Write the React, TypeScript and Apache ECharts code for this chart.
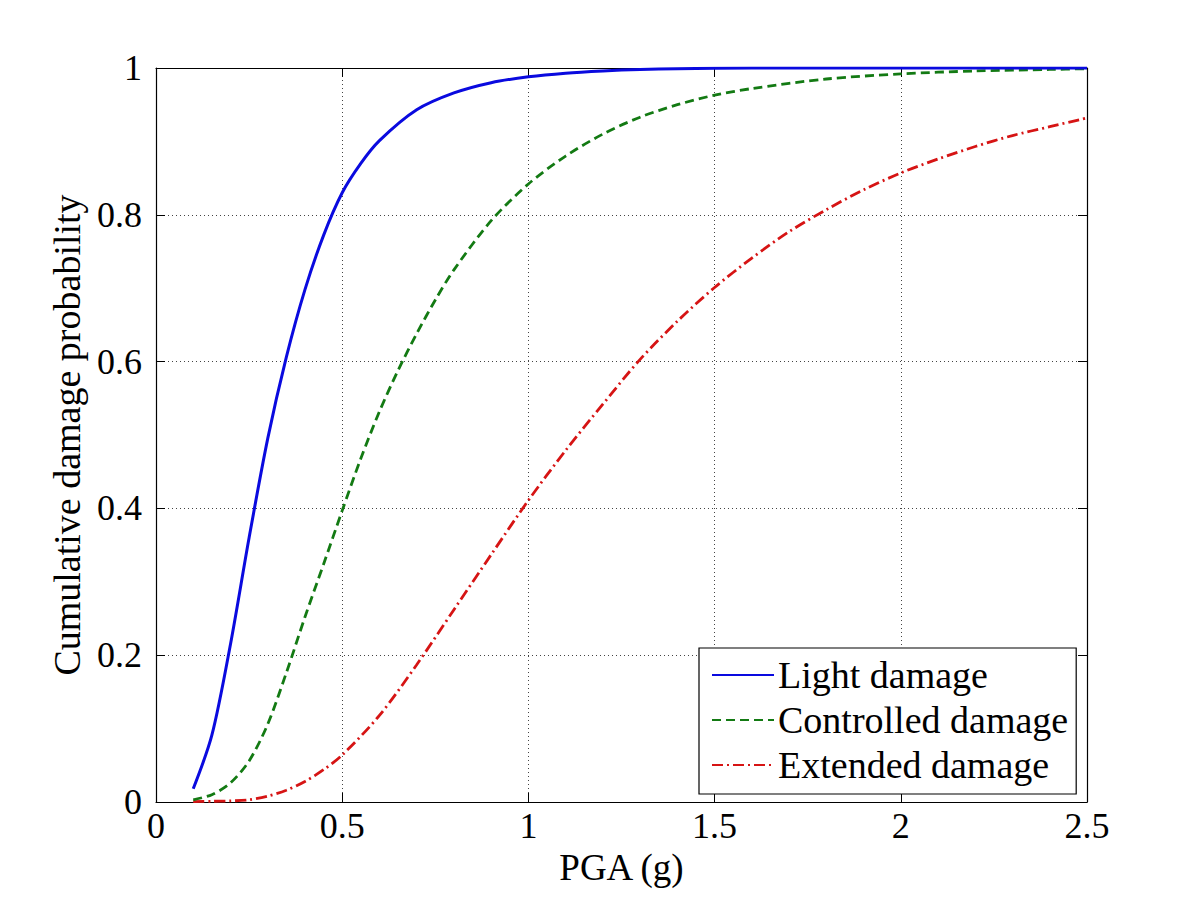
import React, { useEffect, useRef } from "react";
import * as echarts from "echarts";

const pgaLight = [0.1, 0.15, 0.2, 0.25, 0.3, 0.35, 0.4, 0.45, 0.5, 0.55, 0.6, 0.7, 0.8, 0.9, 1.0, 1.1, 1.2, 1.3, 1.4, 1.6, 1.8, 2.0, 2.2, 2.5];
const lightDamage = [0.018, 0.091, 0.215, 0.36, 0.495, 0.606, 0.698, 0.772, 0.83, 0.87, 0.901, 0.943, 0.966, 0.98, 0.988, 0.993, 0.996, 0.998, 0.999, 1.0, 1.0, 1.0, 1.0, 1.0];

const pgaControlled = [0.1, 0.15, 0.2, 0.25, 0.3, 0.35, 0.4, 0.45, 0.5, 0.55, 0.6, 0.65, 0.7, 0.75, 0.8, 0.9, 1.0, 1.1, 1.2, 1.3, 1.4, 1.5, 1.6, 1.8, 2.0, 2.2, 2.4, 2.5];
const controlledDamage = [0.003, 0.01, 0.026, 0.056, 0.106, 0.176, 0.252, 0.324, 0.397, 0.468, 0.532, 0.588, 0.638, 0.684, 0.725, 0.792, 0.842, 0.88, 0.91, 0.933, 0.95, 0.963, 0.972, 0.985, 0.992, 0.996, 0.998, 0.999];

const pgaExtended = [0.1, 0.15, 0.2, 0.25, 0.3, 0.35, 0.4, 0.45, 0.5, 0.6, 0.7, 0.8, 0.9, 1.0, 1.1, 1.2, 1.3, 1.4, 1.5, 1.6, 1.7, 1.8, 1.9, 2.0, 2.1, 2.2, 2.3, 2.4, 2.5];
const extendedDamage = [0.0005, 0.001, 0.0015, 0.003, 0.008, 0.016, 0.028, 0.044, 0.064, 0.118, 0.187, 0.262, 0.337, 0.411, 0.479, 0.542, 0.603, 0.655, 0.701, 0.741, 0.777, 0.807, 0.834, 0.857, 0.876, 0.893, 0.908, 0.92, 0.932];

const xTicks = [0, 0.5, 1, 1.5, 2, 2.5];
const yTicks = [0, 0.2, 0.4, 0.6, 0.8, 1];

const seriesNames = ["Light damage", "Controlled damage", "Extended damage"];

const FONT = "'Liberation Serif', 'Times New Roman', serif";

export default function App() {
  const ref = useRef<HTMLDivElement>(null);
  useEffect(() => {
    if (!ref.current) return;
    const chart = echarts.init(ref.current, null, { renderer: "svg" });
    const zip = (xs: number[], ys: number[]) => xs.map((x, i) => [x, ys[i]]);
    const tickStyle = { show: true, inside: true, length: 9, lineStyle: { color: "#000", width: 1 } };
    chart.setOption({
      animation: false,
      backgroundColor: "#fff",
      textStyle: { fontFamily: FONT },
      grid: { left: 156, top: 68, right: 114, bottom: 99, containLabel: false },
      legend: {
        show: true,
        data: seriesNames,
        orient: "vertical",
        left: 699,
        top: 648,
        padding: [8, 8, 10, 12],
        itemGap: 7,
        itemWidth: 62,
        itemHeight: 14,
        itemStyle: { opacity: 0 },
        backgroundColor: "#fff",
        borderColor: "#000",
        borderWidth: 1.2,
        borderRadius: 0,
        textStyle: { fontFamily: FONT, fontSize: 38, color: "#000", padding: [0, 0, 0, -1] },
      },
      xAxis: [
        {
          type: "value",
          min: 0,
          max: 2.5,
          interval: 0.5,
          name: "PGA (g)",
          nameLocation: "middle",
          nameGap: 46,
          nameTextStyle: { fontFamily: FONT, fontSize: 37, color: "#000" },
          axisLine: { show: true, onZero: false, lineStyle: { color: "#000", width: 1.2 } },
          axisTick: tickStyle,
          axisLabel: { fontFamily: FONT, fontSize: 36, color: "#000", margin: 6, formatter: (v: number) => (xTicks.includes(v) ? String(v) : "") },
          splitLine: { show: true, lineStyle: { color: "#444", width: 1, type: [1, 3] } },
        },
        {
          type: "value",
          min: 0,
          max: 2.5,
          interval: 0.5,
          position: "top",
          axisLine: { show: true, onZero: false, lineStyle: { color: "#000", width: 1.2 } },
          axisTick: tickStyle,
          axisLabel: { show: false },
          splitLine: { show: false },
        },
      ],
      yAxis: [
        {
          type: "value",
          min: 0,
          max: 1,
          interval: 0.2,
          name: "Cumulative damage probability",
          nameLocation: "middle",
          nameGap: 42,
          nameTextStyle: { fontFamily: FONT, fontSize: 38, color: "#000" },
          axisLine: { show: true, onZero: false, lineStyle: { color: "#000", width: 1.2 } },
          axisTick: tickStyle,
          axisLabel: {
            fontFamily: FONT,
            fontSize: 36,
            color: "#000",
            margin: 14,
            formatter: (v: number) => {
              const t = yTicks.find((k) => Math.abs(k - v) < 1e-9);
              return t === undefined ? "" : String(t);
            },
          },
          splitLine: { show: true, lineStyle: { color: "#444", width: 1, type: [1, 3] } },
        },
        {
          type: "value",
          min: 0,
          max: 1,
          interval: 0.2,
          position: "right",
          axisLine: { show: true, onZero: false, lineStyle: { color: "#000", width: 1.2 } },
          axisTick: tickStyle,
          axisLabel: { show: false },
          splitLine: { show: false },
        },
      ],
      series: [
        {
          name: seriesNames[0],
          type: "line",
          data: zip(pgaLight, lightDamage),
          showSymbol: false,
          symbol: "none",
          smooth: 0.3,
          clip: true,
          color: "#0a0adf",
          lineStyle: { color: "#0a0adf", width: 3, type: "solid" },
          z: 5,
        },
        {
          name: seriesNames[1],
          type: "line",
          data: zip(pgaControlled, controlledDamage),
          showSymbol: false,
          symbol: "none",
          smooth: 0.3,
          clip: true,
          color: "#137a13",
          lineStyle: { color: "#137a13", width: 2.8, type: [9, 5] },
          z: 4,
        },
        {
          name: seriesNames[2],
          type: "line",
          data: zip(pgaExtended, extendedDamage),
          showSymbol: false,
          symbol: "none",
          smooth: 0.3,
          clip: true,
          color: "#d61414",
          lineStyle: { color: "#d61414", width: 2.8, type: [11, 4, 2, 4] },
          z: 3,
        },
      ],
    });
    return () => chart.dispose();
  }, []);
  return (
    <div
      ref={ref}
      style={{ position: "fixed", left: 0, top: 0, width: 1201, height: 901, background: "#fff" }}
    />
  );
}
